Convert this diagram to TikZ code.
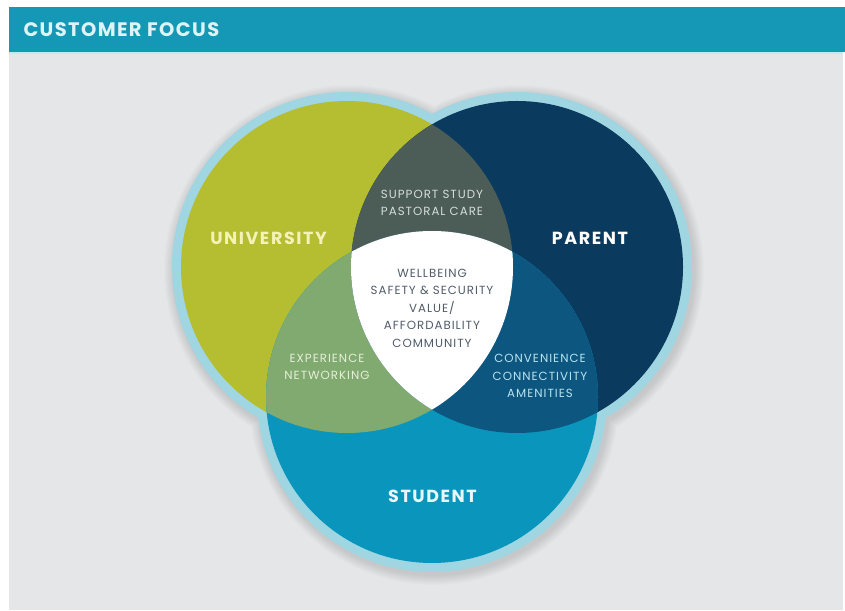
\documentclass[tikz,border=0pt]{standalone}
\usepackage{fontspec}
\setmainfont{Poppins}
\usepackage{tikz}
\usetikzlibrary{positioning,calc}

\definecolor{headbar}{RGB}{20,152,182}
\definecolor{headline}{RGB}{190,235,243}
\definecolor{headtext}{RGB}{222,243,245}
\definecolor{paper}{RGB}{229,230,232}
\definecolor{rim}{RGB}{160,213,226}
\definecolor{univ}{RGB}{181,189,48}
\definecolor{parent}{RGB}{10,58,94}
\definecolor{student}{RGB}{10,150,188}
\definecolor{univparent}{RGB}{76,92,87}
\definecolor{univstudent}{RGB}{128,170,112}
\definecolor{parentstudent}{RGB}{12,86,128}
\definecolor{coretext}{RGB}{80,92,108}

\tikzset{
  big/.style={font=\fontsize{17.5}{20}\selectfont\bfseries\addfontfeature{LetterSpace=9}},
  small/.style={font=\fontsize{11.8}{17.5}\selectfont\addfontfeature{LetterSpace=8.5}, align=center},
}

\begin{document}
\begin{tikzpicture}[x=1pt,y=1pt]
    \useasboundingbox (0,0) rectangle (845,610);
    \fill[white] (0,0) rectangle (845,610);
    \fill[paper] (9,0) rectangle (843,556);
    \fill[headline] (9,556) rectangle (843,558);
    \fill[headbar] (9,558) rectangle (845,603);
    \node[anchor=west, font=\fontsize{19.5}{22}\selectfont\bfseries\addfontfeature{LetterSpace=7}, text=headtext] (title) at (20,580) {CUSTOMER FOCUS};

    \coordinate (U) at (347,343);
    \coordinate (P) at (517,343);
    \coordinate (S) at (432,213);
    \def\r{166}

    % soft shadow and light rim round the three circles
    \foreach \k in {1,...,10}
      \fill[black, opacity=0.012] ($(U)+(2,-3)$) circle (\r+9+\k) ($(P)+(2,-3)$) circle (\r+9+\k) ($(S)+(2,-3)$) circle (\r+9+\k);
    \fill[rim] (U) circle (\r+9) (P) circle (\r+9) (S) circle (\r+9);

    \fill[univ] (U) circle (\r);
    \fill[parent] (P) circle (\r);
    \fill[student] (S) circle (\r);

    \begin{scope}
      \clip (U) circle (\r);
      \fill[univparent] (P) circle (\r);
      \fill[univstudent] (S) circle (\r);
    \end{scope}
    \begin{scope}
      \clip (P) circle (\r);
      \fill[parentstudent] (S) circle (\r);
      \clip (U) circle (\r);
      \fill[white] (S) circle (\r);
    \end{scope}

    \node[big, text={rgb,255:red,244;green,242;blue,184}] (university) at (268.5,371.5) {UNIVERSITY};
    \node[big, text=white] (parentlbl) at (590,372) {PARENT};
    \node[big, text={rgb,255:red,234;green,246;blue,250}] (studentlbl) at (432.5,113.5) {STUDENT};

    \node[small, text={rgb,255:red,213;green,221;blue,218}] (support) at (432,407) {SUPPORT STUDY\\PASTORAL CARE};
    \node[small, text=coretext] (core) at (432,302) {WELLBEING\\SAFETY \& SECURITY\\VALUE/\\AFFORDABILITY\\COMMUNITY};
    \node[small, text={rgb,255:red,230;green,239;blue,216}] (experience) at (327,243) {EXPERIENCE\\NETWORKING};
    \node[small, text={rgb,255:red,185;green,227;blue,238}] (convenience) at (540,234) {CONVENIENCE\\CONNECTIVITY\\AMENITIES};
\end{tikzpicture}
\end{document}
